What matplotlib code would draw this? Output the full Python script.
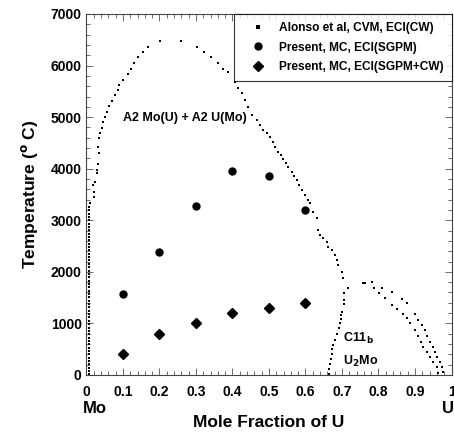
import matplotlib
matplotlib.use('Agg')
import matplotlib.pyplot as plt

plt.rcParams['font.family'] = ['Liberation Sans', 'DejaVu Sans']
plt.rcParams['font.weight'] = 'bold'

# Alonso et al, CVM - miscibility gap boundary (mole fraction U, temperature)
col_x = [0.008] * 51
col_t = [10, 75, 140, 205, 270, 335, 400, 465, 530, 595, 660, 725, 790, 855,
         920, 985, 1050, 1115, 1180, 1245, 1310, 1375, 1440, 1505, 1570, 1635,
         1700, 1765, 1830, 1895, 1960, 2025, 2090, 2155, 2220, 2285, 2350, 2415,
         2480, 2545, 2610, 2675, 2740, 2805, 2870, 2935, 3000, 3065, 3130, 3195,
         3260]
gap_x = [0.010, 0.021, 0.021, 0.018, 0.022, 0.028, 0.029, 0.032, 0.031, 0.035,
         0.033, 0.037, 0.042, 0.046, 0.051, 0.055, 0.062, 0.071, 0.078, 0.087,
         0.090, 0.101, 0.113, 0.122, 0.131, 0.140, 0.154, 0.169, 0.201, 0.259,
         0.302, 0.322, 0.341, 0.361, 0.375, 0.389, 0.407, 0.416, 0.425, 0.434,
         0.443, 0.454, 0.466, 0.475, 0.484, 0.494, 0.503, 0.510, 0.516, 0.526,
         0.533, 0.539, 0.547, 0.553, 0.562, 0.568, 0.576, 0.583, 0.590, 0.599,
         0.608, 0.612, 0.621, 0.631, 0.635, 0.640, 0.649, 0.658, 0.662, 0.672,
         0.681, 0.685, 0.690, 0.699, 0.702]
gap_t = [3330, 3455, 3550, 3680, 3750, 3910, 3970, 4090, 4425, 4296,
         4600, 4684, 4793, 4909, 5006, 5103, 5219, 5316, 5426, 5523,
         5620, 5729, 5846, 5943, 6052, 6157, 6266, 6362, 6473, 6473,
         6362, 6254, 6157, 6052, 5943, 5878, 5684, 5574, 5459, 5329,
         5200, 5039, 4942, 4845, 4748, 4684, 4618, 4522, 4424, 4328,
         4264, 4180, 4102, 4037, 3940, 3856, 3779, 3682, 3585, 3488,
         3391, 3327, 3165, 3036, 2810, 2713, 2649, 2583, 2487, 2422,
         2326, 2229, 2132, 2002, 1873]

# C11b (U2Mo) region boundaries
c11_left_x = [0.664, 0.665, 0.667, 0.669, 0.672, 0.673, 0.676, 0.681, 0.685,
              0.692, 0.695, 0.696, 0.697, 0.699, 0.706, 0.706, 0.706, 0.717]
c11_left_t = [14, 110, 207, 304, 401, 498, 581, 678, 795,
              905, 1002, 1079, 1163, 1227, 1370, 1453, 1583, 1680]
c11_top_x = [0.758, 0.763, 0.781]
c11_top_t = [1776, 1789, 1808]
c11_out_x = [0.809, 0.836, 0.864, 0.877, 0.900, 0.909, 0.918, 0.927, 0.932,
             0.941, 0.950, 0.955, 0.959, 0.968, 0.973, 0.977]
c11_out_t = [1680, 1602, 1473, 1389, 1182, 1066, 969, 872, 756,
             645, 548, 452, 355, 258, 161, 64]
c11_in_x = [0.788, 0.802, 0.818, 0.836, 0.850, 0.868, 0.877, 0.886, 0.900,
            0.909, 0.916, 0.923, 0.932, 0.941, 0.950, 0.959, 0.964]
c11_in_t = [1680, 1583, 1486, 1357, 1273, 1182, 1099, 1002, 872,
            756, 645, 536, 452, 355, 258, 161, 45]

alonso_x = col_x + gap_x + c11_left_x + c11_top_x + c11_out_x + c11_in_x
alonso_t = col_t + gap_t + c11_left_t + c11_top_t + c11_out_t + c11_in_t

# Present work, Monte Carlo
mc_x = [0.1, 0.2, 0.3, 0.4, 0.5, 0.6]
sgpm_t = [1570, 2380, 3270, 3955, 3855, 3200]
sgpm_cw_t = [400, 800, 1000, 1200, 1305, 1400]

fig = plt.figure(figsize=(4.54, 4.32), dpi=100)
ax = fig.add_axes([0.1905, 0.132, 0.804, 0.8356])

ax.plot(alonso_x, alonso_t, 's', color='black', markersize=2.1, markeredgewidth=0,
        linestyle='none', label='Alonso et al, CVM, ECI(CW)')
ax.plot(mc_x, sgpm_t, 'o', color='black', markersize=5, linestyle='none',
        label='Present, MC, ECI(SGPM)')
ax.plot(mc_x, sgpm_cw_t, 'D', color='black', markersize=5, linestyle='none',
        label='Present, MC, ECI(SGPM+CW)')

ax.set_xlim(0, 1)
ax.set_ylim(0, 7000)
ax.set_xticks([0, 0.1, 0.2, 0.3, 0.4, 0.5, 0.6, 0.7, 0.8, 0.9, 1])
ax.set_xticklabels(['0', '0.1', '0.2', '0.3', '0.4', '0.5', '0.6', '0.7', '0.8', '0.9', '1'])
ax.set_xticks([i * 0.02 for i in range(51)], minor=True)
ax.set_yticks([0, 1000, 2000, 3000, 4000, 5000, 6000, 7000])
ax.set_yticks([i * 200 for i in range(36)], minor=True)
ax.tick_params(which='both', direction='in', top=True, right=True, labelsize=10,
               width=0.6, color='#555555')
ax.tick_params(which='major', length=5)
ax.tick_params(which='minor', length=3)
ax.tick_params(axis='x', pad=7)
for s in ax.spines.values():
    s.set_linewidth(0.8)
    s.set_color('#444444')

ax.set_xlabel('Mole Fraction of U', fontsize=12.5, fontweight='bold', labelpad=12)
ax.set_ylabel('Temperature ($^{\\mathbf{o}}$ C)', fontsize=12.5, fontweight='bold', labelpad=8)

ax.text(-0.01, -0.104, 'Mo', transform=ax.transAxes, fontsize=12, fontweight='bold',
        ha='left', va='baseline')
ax.text(0.973, -0.104, 'U', transform=ax.transAxes, fontsize=12, fontweight='bold',
        ha='left', va='baseline')
ax.text(0.1, 4980, 'A2 Mo(U) + A2 U(Mo)', fontsize=9, fontweight='bold', va='center')
ax.text(0.703, 717, 'C11$_\\mathbf{b}$', fontsize=9, fontweight='bold', va='center')
ax.text(0.703, 260, 'U$_\\mathbf{2}$Mo', fontsize=9, fontweight='bold', va='center')

leg = ax.legend(loc='upper right', borderaxespad=0, fontsize=8.6, frameon=True,
                fancybox=False, edgecolor='black', handlelength=2.6,
                handletextpad=0.4, borderpad=0.7, labelspacing=0.6)
leg.get_frame().set_linewidth(0.8)
leg.legend_handles[0].set_markersize(2.5)

fig.savefig('out.png', dpi=100)
